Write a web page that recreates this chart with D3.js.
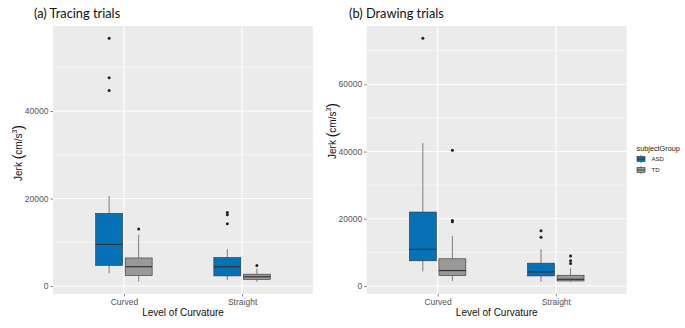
<!DOCTYPE html>
<html><head><meta charset="utf-8">
<script src="https://cdn.jsdelivr.net/npm/d3@7"></script>
<style>body{margin:0;background:#fff}svg{display:block}</style>
</head><body>
<svg id="chart" width="685" height="328"></svg>
<script>
// ---- data ----
const categories = ["Curved", "Straight"];
const groups = ["ASD", "TD"];
const groupColors = ["#0571B6", "#999999"];

// five-number summaries [min, q1, median, q3, max] per category
const tracingASD = [[2900, 4700, 9500, 16600, 20500], [1400, 2300, 4400, 6500, 8400]];
const tracingTD  = [[1000, 2400, 4400, 6400, 11700], [950, 1500, 2100, 2700, 4000]];
const tracingASDOut = [[56650, 47600, 44700], [16800, 16300, 14200]];
const tracingTDOut  = [[13000], [4700]];

const drawingASD = [[4300, 7500, 10900, 22000, 42500], [1250, 3000, 4200, 6800, 10900]];
const drawingTD  = [[1500, 3100, 4600, 8100, 14900], [1250, 1500, 2000, 3200, 5300]];
const drawingASDOut = [[73700], [16400, 14500]];
const drawingTDOut  = [[40400, 19500, 19100], [8900, 7500, 6700]];

const tracingTicks = [0, 20000, 40000];
const tracingMinor = [10000, 30000, 50000];
const drawingTicks = [0, 20000, 40000, 60000];
const drawingMinor = [10000, 30000, 50000, 70000];

const panels = [
  {title: "(a) Tracing trials", x0: 53, box: [tracingASD, tracingTD], out: [tracingASDOut, tracingTDOut],
   ticks: tracingTicks, minor: tracingMinor, titleX: 34, ytX: 17.5, ytY: 153},
  {title: "(b) Drawing trials", x0: 366.7, box: [drawingASD, drawingTD], out: [drawingASDOut, drawingTDOut],
   ticks: drawingTicks, minor: drawingMinor, titleX: 349, ytX: 332, ytY: 131}
];

const svg = d3.select("#chart");
const W = 260, plotTop = 26, plotBottom = 294;
const textCol = "#555555";
const SANS = "'Liberation Sans', Arial, sans-serif";

panels.forEach(p => {
  const g = svg.append("g");
  // y domain from data, ggplot 5% expansion
  const all = [];
  p.box.forEach(b => b.forEach(s => all.push(...s)));
  p.out.forEach(o => o.forEach(s => all.push(...s)));
  const [mn, mx] = d3.extent(all);
  const pad = 0.05 * (mx - mn);
  const y = d3.scaleLinear().domain([mn - pad, mx + pad]).range([plotBottom, plotTop]);
  const x = d3.scaleLinear().domain([0.4, 2.6]).range([p.x0, p.x0 + W]);

  g.append("rect").attr("x", p.x0).attr("y", plotTop).attr("width", W).attr("height", plotBottom - plotTop).attr("fill", "#EBEBEB");
  // minor grid
  g.selectAll(".mg").data(p.minor.filter(v => y(v) > plotTop)).join("line")
    .attr("x1", p.x0).attr("x2", p.x0 + W).attr("y1", d => y(d)).attr("y2", d => y(d))
    .attr("stroke", "#fff").attr("stroke-width", 0.5);
  g.selectAll(".Mg").data(p.ticks).join("line")
    .attr("x1", p.x0).attr("x2", p.x0 + W).attr("y1", d => y(d)).attr("y2", d => y(d))
    .attr("stroke", "#fff").attr("stroke-width", 1.1);
  g.selectAll(".vg").data(categories).join("line")
    .attr("x1", (d, i) => x(i + 1)).attr("x2", (d, i) => x(i + 1)).attr("y1", plotTop).attr("y2", plotBottom)
    .attr("stroke", "#fff").attr("stroke-width", 1.1);

  // axes
  const ya = g.append("g").attr("transform", `translate(${p.x0},0)`)
    .call(d3.axisLeft(y).tickValues(p.ticks).tickFormat(d3.format("d")).tickSize(2.5).tickPadding(2));
  ya.select(".domain").remove();
  ya.selectAll("line").attr("stroke", "#333").attr("stroke-width", 0.6);
  ya.selectAll("text").attr("fill", textCol).attr("font-family", SANS).attr("font-size", 8.5);

  const xa = g.append("g").attr("transform", `translate(0,${plotBottom})`)
    .call(d3.axisBottom(x).tickValues([1, 2]).tickFormat((d) => categories[d - 1]).tickSize(2.5).tickPadding(2));
  xa.select(".domain").remove();
  xa.selectAll("line").attr("stroke", "#333").attr("stroke-width", 0.6);
  xa.selectAll("text").attr("fill", textCol).attr("font-family", SANS).attr("font-size", 8.5);

  // boxes
  const bw = 0.228, off = 0.125;
  groups.forEach((grp, gi) => {
    categories.forEach((cat, ci) => {
      const s = p.box[gi][ci];
      const cx = x(ci + 1 + (gi === 0 ? -off : off));
      const half = (x(bw) - x(0)) / 2;
      g.append("line").attr("x1", cx).attr("x2", cx).attr("y1", y(s[3])).attr("y2", y(s[4])).attr("stroke", "#333").attr("stroke-width", 0.6);
      g.append("line").attr("x1", cx).attr("x2", cx).attr("y1", y(s[1])).attr("y2", y(s[0])).attr("stroke", "#333").attr("stroke-width", 0.6);
      g.append("rect").attr("x", cx - half).attr("width", 2 * half)
        .attr("y", y(s[3])).attr("height", y(s[1]) - y(s[3]))
        .attr("fill", groupColors[gi]).attr("stroke", "#333").attr("stroke-width", 0.6);
      g.append("line").attr("x1", cx - half).attr("x2", cx + half).attr("y1", y(s[2])).attr("y2", y(s[2]))
        .attr("stroke", "#333").attr("stroke-width", 1.2);
      g.selectAll(null).data(p.out[gi][ci]).join("circle")
        .attr("cx", cx).attr("cy", d => y(d)).attr("r", 1.5).attr("fill", "#222");
    });
  });

  // titles
  g.append("text").attr("x", p.titleX).attr("y", 17.5).text(p.title)
    .attr("font-family", "Lato, 'Open Sans', sans-serif").attr("font-size", 12.8).attr("fill", "#111");
  g.append("text").attr("x", p.x0 + W / 2).attr("y", 316).attr("text-anchor", "middle")
    .text("Level of Curvature").attr("font-family", SANS).attr("font-size", 10).attr("fill", "#111");
  const yt = g.append("text").attr("transform", `translate(${p.ytX},${p.ytY}) rotate(-90)`)
    .attr("text-anchor", "middle").attr("dominant-baseline", "central")
    .attr("font-family", SANS).attr("font-size", 10).attr("fill", "#111");
  yt.append("tspan").text("Jerk ");
  yt.append("tspan").text("(").attr("font-size", 14);
  yt.append("tspan").text("cm/s").attr("font-size", 10);
  yt.append("tspan").text("3").attr("font-size", 7).attr("dy", -4);
  yt.append("tspan").text(")").attr("font-size", 14).attr("dy", 4);
});

// legend
const lg = svg.append("g");
lg.append("text").attr("x", 636.5).attr("y", 150.5).text("subjectGroup")
  .attr("font-family", SANS).attr("font-weight", "normal").attr("font-size", 7.3).attr("fill", "#222");
groups.forEach((grp, i) => {
  const ky = 155 + i * 11;
  lg.append("line").attr("x1", 641).attr("x2", 641).attr("y1", ky).attr("y2", ky + 8).attr("stroke", "#333").attr("stroke-width", 0.6);
  lg.append("rect").attr("x", 637).attr("y", ky + 1.5).attr("width", 8).attr("height", 5)
    .attr("fill", groupColors[i]).attr("stroke", "#333").attr("stroke-width", 0.6);
  lg.append("line").attr("x1", 637).attr("x2", 645).attr("y1", ky + 4).attr("y2", ky + 4).attr("stroke", "#333").attr("stroke-width", 0.8);
  lg.append("text").attr("x", 651.5).attr("y", ky + 4).attr("dominant-baseline", "central").text(grp)
    .attr("font-family", SANS).attr("font-size", 6).attr("fill", "#222");
});
</script>
</body></html>
